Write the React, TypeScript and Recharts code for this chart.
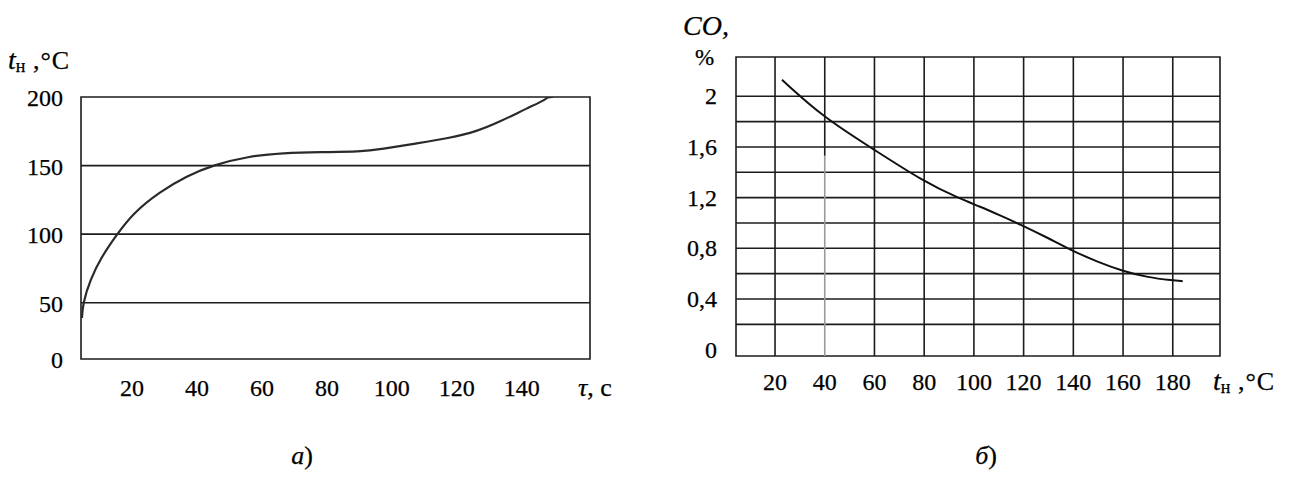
import { LineChart, Line, XAxis, YAxis, ReferenceLine, ReferenceArea } from "recharts";

const SERIF = '"Liberation Serif", "Times New Roman", serif';
const INK = "#1c1c1c";

// а) heating temperature vs time
const tauA = [4.6, 4.9, 7.1, 10.5, 14.8, 20.3, 28.6, 36.9, 44.9, 56.3, 66.5, 77.9, 90.2, 97.3, 105.6, 117.9, 126.2, 133.3, 141.6, 147.2, 147.8, 149.6];
const tempA = [38.9, 49.8, 66.6, 83, 98, 115.4, 131, 142.5, 150.4, 157, 159.2, 159.9, 160, 162.2, 165.5, 170, 175, 182, 191.8, 197.8, 200, 200];
const xTicksA = [20, 40, 60, 80, 100, 120, 140];
// the drawn floor of the axis sits a little above a true zero in the source figure
const yTicksA = [9, 50, 100, 150, 200];
const yLabelsA = ["0", "50", "100", "150", "200"];
const gridA = [50, 100, 150];

// б) CO content vs temperature
const tempB = [22.8, 39.7, 59, 79.5, 94.4, 102.5, 110.5, 118.5, 130, 138.6, 150, 160, 170, 180, 184];
const coB = [2.13, 1.83, 1.59, 1.33, 1.19, 1.13, 1.06, 0.99, 0.88, 0.79, 0.69, 0.62, 0.57, 0.547, 0.54];
const xTicksB = [20, 40, 60, 80, 100, 120, 140, 160, 180];
const yTicksB = [0, 0.4, 0.8, 1.2, 1.6, 2];
const gridBY = [0.2, 0.4, 0.6, 0.8, 1.0, 1.2, 1.4, 1.6, 1.8, 2.0];
const gridBX = [20, 60, 80, 100, 120, 140, 160, 180];

const dataA = tauA.map((tau, i) => ({ tau, t: tempA[i] }));
const dataB = tempB.map((t, i) => ({ t, co: coB[i] }));

const domA = { x: [4.3, 161], y: [9, 200] };
const domB = { x: [4.3, 199], y: [-0.05, 2.31] };

const FS = 24;
const txt = { fontSize: FS, fontFamily: SERIF, fill: "#000", stroke: "#000", strokeWidth: 0.25 };

const XTickA = ({ x, y, payload }: any) => (
  <text x={x} y={y + 29} textAnchor="middle" dominantBaseline="central" {...txt}>
    {payload.value}
  </text>
);

const YTickA = ({ x, y, payload }: any) => (
  <text x={x - 18} y={y + 1} textAnchor="end" dominantBaseline="central" {...txt}>
    {yLabelsA[yTicksA.indexOf(payload.value)]}
  </text>
);

const XTickB = ({ x, y, payload }: any) => (
  <text x={x} y={y + 26} textAnchor="middle" dominantBaseline="central" {...txt}>
    {payload.value}
  </text>
);

const YTickB = ({ x, y, payload }: any) => (
  <text x={x - 19} y={y} textAnchor="end" dominantBaseline="central" {...txt}>
    {String(payload.value).replace(".", ",")}
  </text>
);

const App = () => {
  return (
    <div style={{ position: "absolute", left: 0, top: 0, width: 1293, height: 490, background: "#fff" }}>
      {/* chart а */}
      <div style={{ position: "absolute", left: 0, top: 0 }}>
        <LineChart width={640} height={420} data={dataA} margin={{ top: 97, right: 50, left: 0, bottom: 0 }}>
          <XAxis
            type="number"
            dataKey="tau"
            domain={domA.x}
            allowDataOverflow
            ticks={xTicksA}
            axisLine={false}
            tickLine={false}
            tickSize={0}
            tickMargin={0}
            height={61}
            tick={<XTickA />}
          />
          <YAxis
            type="number"
            domain={domA.y}
            allowDataOverflow
            ticks={yTicksA}
            axisLine={false}
            tickLine={false}
            tickSize={0}
            tickMargin={0}
            width={81}
            tick={<YTickA />}
          />
          {gridA.map((v) => (
            <ReferenceLine key={v} y={v} stroke={INK} strokeWidth={1.6} />
          ))}
          <ReferenceArea
            x1={domA.x[0]}
            x2={domA.x[1]}
            y1={domA.y[0]}
            y2={domA.y[1]}
            fill="none"
            stroke={INK}
            strokeWidth={1.6}
          />
          <Line type="basis" dataKey="t" stroke="#2a2a2a" strokeWidth={2.2} dot={false} isAnimationActive={false} />
        </LineChart>
      </div>

      {/* chart б */}
      <div style={{ position: "absolute", left: 640, top: 0 }}>
        <LineChart width={653} height={420} data={dataB} margin={{ top: 57, right: 73, left: 0, bottom: 0 }}>
          <XAxis
            type="number"
            dataKey="t"
            domain={domB.x}
            allowDataOverflow
            ticks={xTicksB}
            axisLine={false}
            tickLine={false}
            tickSize={0}
            tickMargin={0}
            height={64}
            tick={<XTickB />}
          />
          <YAxis
            type="number"
            domain={domB.y}
            allowDataOverflow
            ticks={yTicksB}
            axisLine={false}
            tickLine={false}
            tickSize={0}
            tickMargin={0}
            width={96}
            tick={<YTickB />}
          />
          {gridBY.map((v) => (
            <ReferenceLine key={`h${v}`} y={v} stroke={INK} strokeWidth={1.6} />
          ))}
          {gridBX.map((v) => (
            <ReferenceLine key={`v${v}`} x={v} stroke={INK} strokeWidth={1.6} />
          ))}
          {/* the 40 line is only dark in its upper part in the source */}
          <ReferenceLine segment={[{ x: 40, y: 1.53 }, { x: 40, y: domB.y[1] }]} stroke={INK} strokeWidth={1.6} />
          <ReferenceLine segment={[{ x: 40, y: domB.y[0] }, { x: 40, y: 1.53 }]} stroke="#9a9a9a" strokeWidth={1.6} />
          <ReferenceArea
            x1={domB.x[0]}
            x2={domB.x[1]}
            y1={domB.y[0]}
            y2={domB.y[1]}
            fill="none"
            stroke={INK}
            strokeWidth={1.6}
          />
          <Line type="basis" dataKey="co" stroke="#111" strokeWidth={2} dot={false} isAnimationActive={false} />
        </LineChart>
      </div>

      {/* axis titles and captions */}
      <svg width={1293} height={490} style={{ position: "absolute", left: 0, top: 0, pointerEvents: "none" }} fontFamily={SERIF} fill="#000" stroke="#000" strokeWidth={0.25}>
        <text x={8} y={69} fontSize={28}>
          <tspan fontStyle="italic">t</tspan>
          <tspan fontSize={18} dy={3}>н</tspan>
          <tspan dy={-3} fontSize={26} letterSpacing={1}> ,°C</tspan>
        </text>
        <text x={578} y={396} fontSize={26}>
          <tspan fontStyle="italic">τ</tspan>,  c
        </text>
        <text x={683} y={35} fontSize={28} fontStyle="italic">CO,</text>
        <text x={695} y={65} fontSize={23}>%</text>
        <text x={1213} y={390} fontSize={28}>
          <tspan fontStyle="italic">t</tspan>
          <tspan fontSize={18} dy={3}>н</tspan>
          <tspan dy={-3} fontSize={26} letterSpacing={1}> ,°C</tspan>
        </text>
        <text x={302} y={464} fontSize={26} textAnchor="middle">
          <tspan fontStyle="italic">а</tspan>)
        </text>
        <text x={986} y={464} fontSize={26} textAnchor="middle">
          <tspan fontStyle="italic">б</tspan>)
        </text>
      </svg>
    </div>
  );
};

export default App;
